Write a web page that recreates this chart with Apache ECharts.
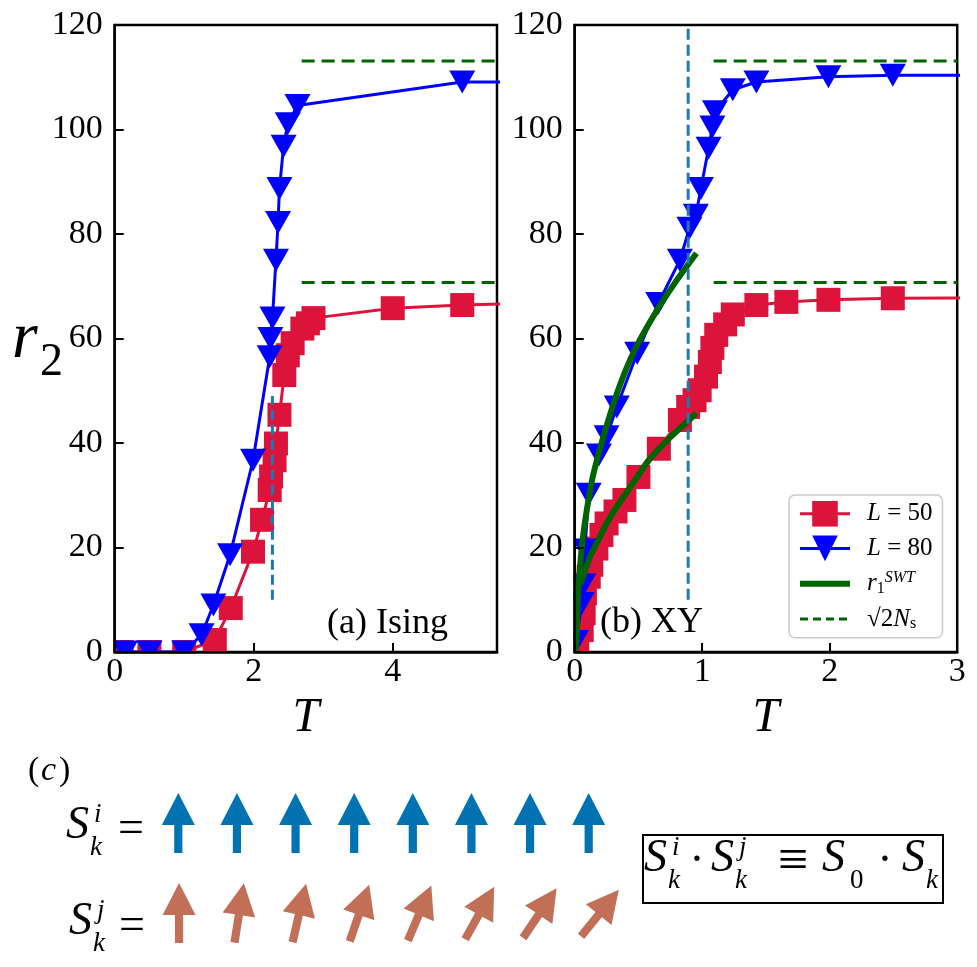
<!DOCTYPE html>
<html lang="en">
<head>
<meta charset="UTF-8">
<title>r2 vs T - Ising and XY</title>
<script src="https://cdn.jsdelivr.net/npm/echarts@6/dist/echarts.min.js"></script>
<style>
    html, body { margin: 0; padding: 0; background: #fff; }
    #chart { width: 977px; height: 967px; }
</style>
</head>
<body>
<div id="chart"></div>
<script>
// (a) Ising
const isingT50 = [0.1, 0.5, 1.0, 1.44, 1.67, 1.99, 2.12, 2.23, 2.25, 2.30, 2.32, 2.37, 2.44, 2.49, 2.56, 2.70, 2.78, 2.86, 4.0, 5.0, 6.0];
const isingR50 = [0, 0, 0, 2.3, 8.4, 19.2, 25.3, 31.0, 33.6, 36.7, 39.9, 45.4, 53.0, 56.8, 59.1, 61.9, 62.9, 63.9, 65.8, 66.4, 66.8];
const isingT80 = [0.15, 0.5, 1.0, 1.25, 1.42, 1.66, 1.99, 2.23, 2.24, 2.27, 2.32, 2.35, 2.37, 2.43, 2.49, 2.63, 5.0, 6.0];
const isingR80 = [0, 0, 0, 3.3, 9.0, 18.6, 36.7, 56.5, 60.0, 63.9, 75.0, 82.2, 88.7, 96.8, 101.1, 104.6, 109.1, 109.1];
const isingTc = 2.269;
const isingTcSpan = [10, 49];
const isingPlateauFrom = 2.69;

// (b) XY
const xyT50 = [0.02, 0.055, 0.07, 0.08, 0.11, 0.13, 0.17, 0.21, 0.25, 0.32, 0.39, 0.50, 0.66, 0.825, 0.89, 0.94, 0.98, 1.03, 1.06, 1.08, 1.11, 1.18, 1.24, 1.425, 1.66, 1.99, 2.495, 3.5];
const xyR50 = [1.5, 4.2, 7.4, 11.2, 14.4, 16.7, 19.8, 22.4, 24.6, 26.9, 29.1, 33.5, 38.9, 44.4, 46.9, 48.2, 50.1, 52.7, 55.5, 58.2, 60.7, 62.7, 64.6, 66.4, 67.0, 67.4, 67.7, 67.8];
const xyT80 = [0.01, 0.055, 0.067, 0.08, 0.11, 0.19, 0.25, 0.33, 0.49, 0.655, 0.825, 0.90, 0.95, 0.99, 1.05, 1.08, 1.10, 1.24, 1.425, 1.99, 2.495, 3.5];
const xyR80 = [2, 9.3, 12.8, 19.5, 30.2, 37.7, 41.2, 46.9, 57.2, 66.7, 75.0, 81.1, 83.6, 88.7, 96.4, 100.5, 103.4, 107.6, 109.1, 110.1, 110.4, 110.4];
const swtT80 = [0.005, 0.015, 0.023, 0.04, 0.067, 0.107, 0.146, 0.22, 0.34, 0.47, 0.63, 0.785, 0.955];
const swtR80 = [0, 3, 9.5, 15.8, 22.4, 29.0, 34.0, 40.8, 50.1, 57.8, 64.8, 70.6, 76.3];
const swtT50 = [0.045, 0.067, 0.12, 0.185, 0.25, 0.33, 0.51, 0.58, 0.73, 0.785, 0.955];
const swtR50 = [13.0, 14.6, 18.2, 21.4, 24.6, 27.8, 34.2, 36.7, 40.6, 41.9, 45.7];
const xyTbkt = 0.89;
const xyTbktSpan = [10, 120];
const xyPlateauFrom = 1.09;

// sqrt(2 N_s) for L = 50 and L = 80
const plateau50 = 70.7;
const plateau80 = 113.1;

// (c) spin sketch
const sites = ['1', '2', '3', '4', '5', '6', '7', '8'];
const spinIAngles = [0, 0, 0, 0, 0, 0, 0, 0];
const spinJAngles = [0, 9, 13, 19, 23, 29, 34, 39];

const serif = 'Liberation Serif';
const RED = '#dc143c', BLUE = '#0000ff', GREEN = '#006400', TAB = '#1f77b4';
const pairs = (xs, ys) => xs.map((x, i) => [x, ys[i]]);

const chart = echarts.init(document.getElementById('chart'));

function valueAxis(grid, max, interval, labelMargin) {
    return {
        gridIndex: grid, type: 'value', min: 0, max: max, interval: interval, z: 10,
        axisLine: { show: true, lineStyle: { color: '#000', width: 2.5 } },
        axisTick: { show: true, inside: true, length: 9, lineStyle: { color: '#000', width: 2 } },
        axisLabel: {
            color: '#000', fontFamily: serif, fontSize: 34, margin: labelMargin,
            showMaxLabel: max % interval === 0
        },
        splitLine: { show: false }
    };
}

const xA = valueAxis(0, 5.5, 2, 3);
const xB = valueAxis(1, 3, 1, 3);
[xA, xB].forEach(a => {
    a.name = 'T';
    a.nameLocation = 'middle';
    a.nameGap = 32;
    a.nameTextStyle = { fontFamily: serif, fontStyle: 'italic', fontSize: 48, color: '#000' };
});
const yA = valueAxis(0, 120, 20, 12);
const yB = valueAxis(1, 120, 20, 12);

const hiddenCat = g => ({ gridIndex: g, type: 'category', data: sites, show: false });
const hiddenVal = g => ({ gridIndex: g, type: 'value', min: 0, max: 1, show: false });

const gridBox = { show: true, borderColor: '#000', borderWidth: 2.5, backgroundColor: '#fff' };

function dataLine(name, xi, xs, ys, color, sym, z) {
    const s = {
        name: name, type: 'line', xAxisIndex: xi, yAxisIndex: xi, z: z,
        data: pairs(xs, ys), color: color, clip: true,
        lineStyle: { color: color, width: 3 },
        itemStyle: { color: color }
    };
    if (sym === 'sq') { s.symbol = 'rect'; s.symbolSize = 24; }
    else { s.symbol = 'triangle'; s.symbolRotate = 180; s.symbolSize = [26, 23]; }
    return s;
}
function plainLine(name, xi, data, color, width, dash, z) {
    return {
        name: name, type: 'line', xAxisIndex: xi, yAxisIndex: xi, data: data, z: z,
        symbol: 'none', color: color, clip: true,
        lineStyle: { color: color, width: width, type: dash || 'solid' }
    };
}

const arrowPath = 'path://M16.5,0 L33,32 L20.6,32 L20.6,60 L12.4,60 L12.4,32 L0,32 Z';

const swtUpper = plainLine('swt', 1, pairs(swtT80, swtR80), GREEN, 6, null, 3);
const swtLower = plainLine('swt', 1, pairs(swtT50, swtR50), GREEN, 6, null, 3);
swtUpper.smooth = 0.3;
swtLower.smooth = 0.3;

const series = [
    dataLine('L50', 0, isingT50, isingR50, RED, 'sq', 2),
    dataLine('L80', 0, isingT80, isingR80, BLUE, 'tri', 2.5),
    plainLine('ns', 0, [[isingPlateauFrom, plateau80], [5.5, plateau80]], GREEN, 3, [13, 7], 3),
    plainLine('ns', 0, [[isingPlateauFrom, plateau50], [5.5, plateau50]], GREEN, 3, [13, 7], 3),
    plainLine('tc', 0, [[isingTc, isingTcSpan[0]], [isingTc, isingTcSpan[1]]], TAB, 3, [10, 5], 3.5),

    dataLine('L50', 1, xyT50, xyR50, RED, 'sq', 2),
    dataLine('L80', 1, xyT80, xyR80, BLUE, 'tri', 2.5),
    swtUpper,
    swtLower,
    plainLine('ns', 1, [[xyPlateauFrom, plateau80], [3, plateau80]], GREEN, 3, [13, 7], 3),
    plainLine('ns', 1, [[xyPlateauFrom, plateau50], [3, plateau50]], GREEN, 3, [13, 7], 3),
    plainLine('tbkt', 1, [[xyTbkt, xyTbktSpan[0]], [xyTbkt, xyTbktSpan[1]]], TAB, 3, [11, 5], 3.5),

    {
        name: 'spinI', type: 'scatter', xAxisIndex: 2, yAxisIndex: 2,
        symbol: arrowPath, symbolSize: [33, 60],
        itemStyle: { color: '#0173b2', opacity: 1 },
        data: sites.map((s, i) => ({ value: [s, 0.5], symbolRotate: -spinIAngles[i] }))
    },
    {
        name: 'spinJ', type: 'scatter', xAxisIndex: 3, yAxisIndex: 3,
        symbol: arrowPath, symbolSize: [33, 60],
        itemStyle: { color: '#c17057', opacity: 1 },
        data: sites.map((s, i) => ({ value: [s, 0.5], symbolRotate: -spinJAngles[i] }))
    }
];

function txt(x, y, s, size, italic, align) {
    return {
        type: 'text', x: x, y: y, z: 100,
        style: {
            text: s, fill: '#000',
            font: (italic ? 'italic ' : '') + size + 'px "' + serif + '"',
            align: align || 'left', verticalAlign: 'middle'
        }
    };
}

// S with superscript / subscript
function sTerm(x, y, sup, sub) {
    const out = [txt(x, y, 'S', 46, true)];
    if (sup) out.push(txt(x + 28, y - 11, sup, 27, true));
    if (sub) out.push(txt(x + (sub === '0' ? 28 : 24), y + 22, sub, 27, sub !== '0'));
    return out;
}

// white masks so markers sitting on the frame are cut like in the source
function mask(x, y, w, h) {
    return { type: 'rect', z: 5, shape: { x: x, y: y, width: w, height: h }, style: { fill: '#fff' } };
}

const graphics = [
    mask(95, 653.6, 420, 20), mask(90, 20, 23.4, 650),
    mask(555, 653.6, 420, 20), mask(550, 20, 23.4, 650),
    txt(12, 340, 'r', 66, true),
    txt(40, 363, '2', 46, false),
    txt(327, 624, '(a) Ising', 36, false),
    txt(600, 623, '(b) XY', 36, false),
    txt(28, 771, '(', 34, false), txt(41, 771, 'c', 34, true), txt(59, 771, ')', 34, false),
    ...sTerm(66, 826, 'i', 'k'),
    txt(131, 830, '=', 46, false, 'center'),
    ...sTerm(69, 922, 'j', 'k'),
    txt(132, 927, '=', 46, false, 'center'),
    {
        type: 'rect', z: 100,
        shape: { x: 643, y: 835, width: 300, height: 68 },
        style: { fill: 'none', stroke: '#000', lineWidth: 2 }
    },
    ...sTerm(644, 859, 'i', 'k'),
    txt(697, 862, '·', 46, false, 'center'),
    ...sTerm(711, 859, 'j', 'k'),
    txt(793, 863, '≡', 54, false, 'center'),
    ...sTerm(822, 859, null, '0'),
    txt(885, 862, '·', 46, false, 'center'),
    ...sTerm(902, 859, null, 'k')
];

const legendText = {
    L50: '{i|L} = 50',
    L80: '{i|L} = 80',
    swt: '{i|r}{sub|1}{sup|SWT}',
    ns: '√2{i|N}{sub|s}'
};

const option = {
    animation: false,
    backgroundColor: '#fff',
    grid: [
        Object.assign({ left: 114.7, top: 25, width: 382.3, height: 627 }, gridBox),
        Object.assign({ left: 574.7, top: 25, width: 382.5, height: 627 }, gridBox),
        { left: 149, top: 813, width: 469, height: 20 },
        { left: 149, top: 903, width: 481, height: 20 }
    ],
    xAxis: [xA, xB, hiddenCat(2), hiddenCat(3)],
    yAxis: [yA, yB, hiddenVal(2), hiddenVal(3)],
    legend: {
        data: [
            { name: 'L50' },
            { name: 'L80' },
            { name: 'swt', itemStyle: { opacity: 0 }, lineStyle: { width: 6 } },
            { name: 'ns', itemStyle: { opacity: 0 }, lineStyle: { width: 3, type: [8, 5] } }
        ],
        orient: 'vertical', left: 789, top: 495, z: 20,
        itemWidth: 50, itemHeight: 32, itemGap: 9,
        padding: [6, 10, 6, 8],
        borderColor: '#cccccc', borderWidth: 1.5, borderRadius: 6,
        backgroundColor: 'rgba(255,255,255,0.8)',
        lineStyle: { width: 3 },
        selectedMode: false,
        formatter: name => legendText[name],
        textStyle: {
            color: '#000', fontFamily: serif, fontSize: 25, padding: [0, 0, 0, 12],
            rich: {
                i: { fontFamily: serif, fontStyle: 'italic', fontSize: 25, color: '#000' },
                sub: { fontFamily: serif, fontSize: 16, color: '#000', verticalAlign: 'bottom', padding: [9, 0, 0, 0] },
                sup: { fontFamily: serif, fontStyle: 'italic', fontSize: 16, color: '#000', verticalAlign: 'top', padding: [0, 0, 11, 0] }
            }
        }
    },
    graphic: graphics,
    series: series
};

chart.setOption(option);
</script>
</body>
</html>
